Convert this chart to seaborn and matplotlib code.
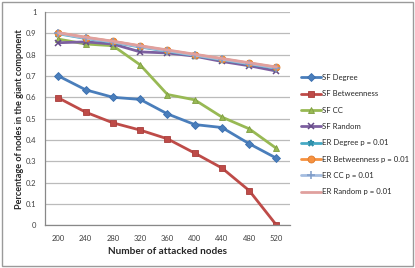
import pandas as pd
import matplotlib
matplotlib.use("Agg")
import matplotlib.pyplot as plt
import seaborn as sns
from matplotlib.patches import Rectangle

# ----- Data -----
attacked = ["200", "240", "280", "320", "360", "400", "440", "480", "520"]

sf_degree = [0.70, 0.635, 0.60, 0.59, 0.522, 0.472, 0.458, 0.382, 0.314]
sf_betweenness = [0.597, 0.53, 0.48, 0.446, 0.405, 0.338, 0.268, 0.162, 0.0]
sf_cc = [0.873, 0.85, 0.842, 0.752, 0.613, 0.588, 0.507, 0.452, 0.36]
sf_random = [0.856, 0.86, 0.85, 0.813, 0.808, 0.793, 0.768, 0.748, 0.723]
er_degree = [0.898, 0.876, 0.858, 0.836, 0.816, 0.796, 0.776, 0.756, 0.736]
er_betweenness = [0.902, 0.88, 0.862, 0.84, 0.82, 0.80, 0.78, 0.76, 0.74]
er_cc = [0.90, 0.878, 0.86, 0.838, 0.818, 0.798, 0.778, 0.758, 0.738]
er_random = [0.903, 0.882, 0.863, 0.842, 0.822, 0.802, 0.782, 0.762, 0.742]

names = ["SF Degree", "SF Betweenness", "SF CC", "SF Random",
         "ER Degree p = 0.01", "ER Betweenness p = 0.01", "ER CC p = 0.01",
         "ER Random p = 0.01"]
series = [sf_degree, sf_betweenness, sf_cc, sf_random,
          er_degree, er_betweenness, er_cc, er_random]

# ----- Styles -----
colors = ["#4A7EBB", "#BE4B48", "#98B954", "#7D60A0",
          "#46AAC5", "#F69240", "#A5BDE0", "#E0A09E"]
edges = ["#3A6FB0", "#A83E3B", "#7F9E40", "#664B88",
         "#2F8FAA", "#E07A28", "#7F9CC8", "#C98684"]
markers = ["D", "s", "^", "x", "*", "o", "+", ""]
sizes = [4.5, 5, 5, 5, 5, 5, 6, 0]

rows = []
for name, vals in zip(names, series):
    for i, v in enumerate(vals):
        rows.append({"pos": i, "value": v, "series": name})
df = pd.DataFrame(rows)

sns.set_style("white")
plt.rcParams["font.family"] = ["Lato", "DejaVu Sans"]

fig = plt.figure(figsize=(4.15, 2.68), dpi=100)
ax = fig.add_axes([0.108, 0.16, 0.591, 0.795])

for name, c, ec, m, s in zip(names, colors, edges, markers, sizes):
    sub = df[df["series"] == name]
    sns.lineplot(data=sub, x="pos", y="value", ax=ax, color=c, linewidth=2.0,
                 marker=m if m else None, markersize=s, markeredgecolor=ec,
                 markeredgewidth=1.1 if m in ("x", "+", "*") else 0.6,
                 label=name, legend=False)

ax.set_xlim(-0.5, len(attacked) - 0.5)
ax.set_ylim(0, 1)
ax.set_yticks([i / 10 for i in range(11)])
ax.set_yticklabels(["0"] + [f"{i/10:g}" for i in range(1, 10)] + ["1"])
ax.set_xticks(range(len(attacked)))
ax.set_xticklabels(attacked)
ax.set_xticks([i - 0.5 for i in range(len(attacked) + 1)], minor=True)
ax.tick_params(axis="x", which="major", length=0, labelsize=5.5, colors="#404040", pad=7)
ax.tick_params(axis="x", which="minor", length=3, color="#888888", width=0.8)
ax.tick_params(axis="y", length=3, color="#888888", width=0.8, labelsize=5.5,
               colors="#404040", pad=3)
ax.yaxis.grid(True, color="#BBBBBB", linewidth=0.9)
ax.set_axisbelow(True)
for sp in ["top", "right"]:
    ax.spines[sp].set_visible(False)
for sp in ["left", "bottom"]:
    ax.spines[sp].set_color("#888888")
    ax.spines[sp].set_linewidth(0.9)

ax.set_xlabel("Number of attacked nodes", fontsize=7.2, fontweight="bold", labelpad=4)
ax.set_ylabel("Percentage of nodes in the giant component", fontsize=6.6,
              fontweight="bold", labelpad=1)

ax.legend(loc="upper left", bbox_to_anchor=(1.0, 0.76), frameon=False,
          fontsize=5.6, handlelength=2.6, labelspacing=1.2, handletextpad=0.1,
          borderaxespad=1.0)

fig.patches.append(Rectangle((0.004, 0.006), 0.991, 0.988, transform=fig.transFigure,
                             fill=False, edgecolor="#9A9A9A", linewidth=1.0))

fig.savefig("out.png", dpi=100)
